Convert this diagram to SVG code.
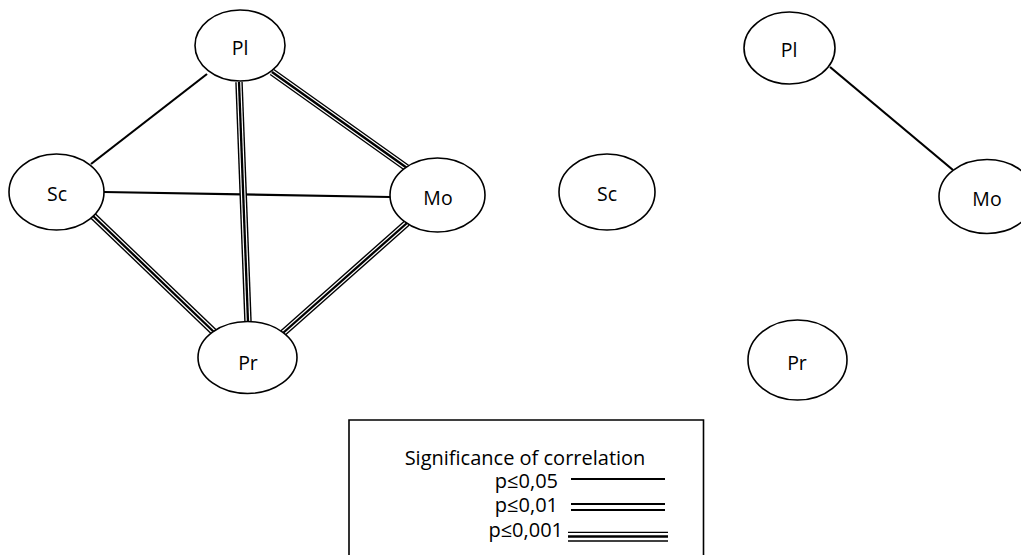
<svg xmlns="http://www.w3.org/2000/svg" width="1021" height="555" viewBox="0 0 1021 555">
<style>
.n{fill:#fff;stroke:#000;stroke-width:1.6}
.t{font-family:"Open Sans","Liberation Sans",sans-serif;font-size:19.5px;fill:#000;text-anchor:middle;dominant-baseline:central}
.s{stroke:#000;stroke-width:2.2;fill:none}
.o{stroke:#000;stroke-width:7.5;fill:none}
.w{stroke:#fff;stroke-width:4.7;fill:none}
.c{stroke:#000;stroke-width:2.3;fill:none}
.lt{font-family:"Open Sans","Liberation Sans",sans-serif;font-size:20px;fill:#000}
</style>
<rect width="1021" height="555" fill="#fff"/>
<g id="connectors">
<line class="s" x1="207" y1="74" x2="91" y2="164"/>
<line class="s" x1="104" y1="192" x2="390" y2="197"/>
<g id="pl-pr"><line class="o" x1="239" y1="82" x2="248" y2="322"/><line class="w" x1="239" y1="82" x2="248" y2="322"/><line class="c" x1="239" y1="82" x2="248" y2="322"/></g>
<g id="pl-mo"><line class="o" x1="272" y1="72" x2="407" y2="168"/><line class="w" x1="272" y1="72" x2="407" y2="168"/><line class="c" x1="272" y1="72" x2="407" y2="168"/></g>
<g id="sc-pr"><line class="o" x1="90" y1="213" x2="215" y2="333"/><line class="w" x1="90" y1="213" x2="215" y2="333"/><line class="c" x1="90" y1="213" x2="215" y2="333"/></g>
<g id="mo-pr"><line class="o" x1="407" y1="223" x2="283" y2="333"/><line class="w" x1="407" y1="223" x2="283" y2="333"/><line class="c" x1="407" y1="223" x2="283" y2="333"/></g>
<line class="s" x1="830" y1="67" x2="953" y2="170"/>
</g>
<g id="L-Pl"><ellipse class="n" cx="240" cy="45.5" rx="45" ry="35.5"/><text class="t" x="240" y="47">Pl</text></g>
<g id="L-Sc"><ellipse class="n" cx="56.5" cy="192" rx="47.5" ry="38"/><text class="t" x="57" y="193">Sc</text></g>
<g id="L-Mo"><ellipse class="n" cx="437.5" cy="195" rx="47.5" ry="37"/><text class="t" x="438" y="197">Mo</text></g>
<g id="L-Pr"><ellipse class="n" cx="247.5" cy="357.5" rx="49.5" ry="36"/><text class="t" x="248" y="362">Pr</text></g>
<g id="R-Pl"><ellipse class="n" cx="789.5" cy="48" rx="45.5" ry="36"/><text class="t" x="789" y="49">Pl</text></g>
<g id="R-Sc"><ellipse class="n" cx="607" cy="192" rx="48" ry="38"/><text class="t" x="607" y="193">Sc</text></g>
<g id="R-Mo"><ellipse class="n" cx="987" cy="196.5" rx="48" ry="37"/><text class="t" x="987" y="198">Mo</text></g>
<g id="R-Pr"><ellipse class="n" cx="797.5" cy="360" rx="49.5" ry="40"/><text class="t" x="797" y="362">Pr</text></g>
<g id="legend">
<path d="M349,556 V420 H703.5 V556" fill="none" stroke="#000" stroke-width="1.6"/>
<text class="lt" x="525" y="465" text-anchor="middle">Significance of correlation</text>
<text class="lt" x="558" y="488" text-anchor="end">p≤0,05</text>
<text class="lt" x="558" y="512" text-anchor="end">p≤0,01</text>
<text class="lt" x="563" y="537" text-anchor="end">p≤0,001</text>
<line class="s" x1="571" y1="479" x2="665" y2="479"/>
<line class="s" x1="571" y1="504" x2="665" y2="504"/>
<line class="s" x1="571" y1="510" x2="665" y2="510"/>
<line stroke="#000" stroke-width="1.3" x1="568" y1="532.3" x2="668" y2="532.3"/>
<line stroke="#000" stroke-width="2.3" x1="568" y1="536.5" x2="668" y2="536.5"/>
<line stroke="#000" stroke-width="1.3" x1="568" y1="541" x2="668" y2="541"/>
</g>
</svg>
